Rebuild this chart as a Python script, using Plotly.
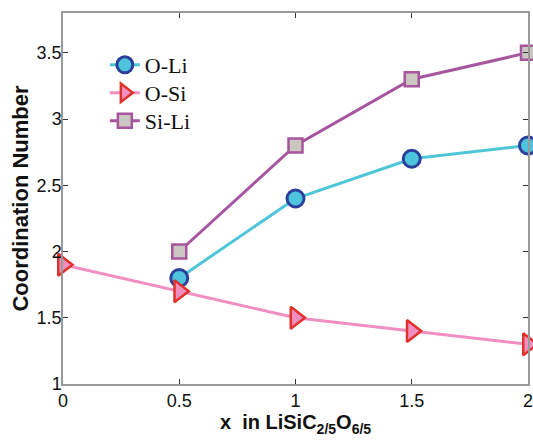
import plotly.graph_objects as go

x_oli = [0.5, 1, 1.5, 2]
y_oli = [1.8, 2.4, 2.7, 2.8]
x_osi = [0, 0.5, 1, 1.5, 2]
y_osi = [1.9, 1.7, 1.5, 1.4, 1.3]
x_sili = [0.5, 1, 1.5, 2]
y_sili = [2.0, 2.8, 3.3, 3.5]

x_ticks = [0, 0.5, 1, 1.5, 2]
x_ticklabels = ["0", "0.5", "1", "1.5", "2"]
y_ticks = [1, 1.5, 2, 2.5, 3, 3.5]
y_ticklabels = ["1", "1.5", "2", "2.5", "3", "3.5"]

fig = go.Figure()
fig.add_trace(go.Scatter(
    x=x_oli, y=y_oli, name="O-Li", mode="lines+markers", legend="legend",
    line=dict(color="#4ec6d8", width=3),
    marker=dict(symbol="circle", size=17, color="#4ec3dc",
                line=dict(color="#2c3f9c", width=3)),
    cliponaxis=False))
fig.add_trace(go.Scatter(
    x=x_osi, y=y_osi, name="O-Si", mode="lines+markers", legend="legend2",
    line=dict(color="#f28ec2", width=3),
    marker=dict(symbol="triangle-right", size=19, color="#f08fc0",
                line=dict(color="#e0322b", width=2.5)),
    cliponaxis=False))
fig.add_trace(go.Scatter(
    x=x_sili, y=y_sili, name="Si-Li", mode="lines+markers", legend="legend3",
    line=dict(color="#a8559f", width=3),
    marker=dict(symbol="square", size=14, color="#c9c7c0",
                line=dict(color="#a8559f", width=2.5)),
    cliponaxis=False))

axis_common = dict(
    showline=True, linecolor="#9a9a9a", linewidth=1.5, mirror="ticks",
    ticks="inside", ticklen=5, tickcolor="#333333", tickwidth=1,
    showgrid=False, zeroline=False, ticklabeloverflow="allow",
    tickfont=dict(family="Liberation Sans, Arial", size=18, color="#111111"),
)

legend_common = dict(
    x=0.09, xanchor="left", yanchor="middle",
    font=dict(family="Liberation Serif, Times New Roman", size=22, color="#111111"),
    bgcolor="rgba(0,0,0,0)", itemwidth=30,
)

# plot area: y pixels 13..384 -> paper
def ypix(p):
    return (384 - p) / 371

fig.update_layout(
    width=533, height=442,
    margin=dict(l=63, r=0, t=13, b=58),
    paper_bgcolor="white", plot_bgcolor="white",
    xaxis=dict(range=[0, 2], tickvals=x_ticks, ticktext=x_ticklabels,
               title=dict(text="<b>x  in LiSiC<sub>2/5</sub>O<sub>6/5</sub></b>",
                          font=dict(family="Liberation Sans, Arial", size=20, color="#111111"),
                          standoff=4),
               **axis_common),
    yaxis=dict(range=[1, 3.8], tickvals=y_ticks, ticktext=y_ticklabels,
               ticklabelstandoff=-4,
               title=dict(text="<b>Coordination Number</b>",
                          font=dict(family="Liberation Sans, Arial", size=22, color="#111111"),
                          standoff=2),
               **axis_common),
    legend=dict(y=ypix(65), **legend_common),
    legend2=dict(y=ypix(93), **legend_common),
    legend3=dict(y=ypix(121), **legend_common),
    showlegend=True,
)

fig.write_html("out.html")
